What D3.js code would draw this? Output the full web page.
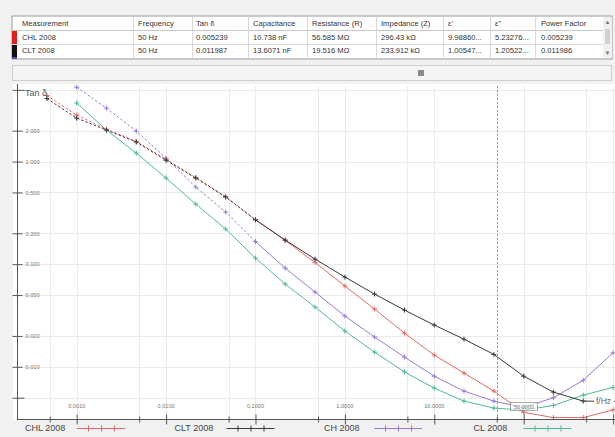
<!DOCTYPE html>
<html><head><meta charset="utf-8">
<script src="https://cdn.jsdelivr.net/npm/d3@7"></script>
<style>
html,body{margin:0;padding:0;background:#f1f1f1;}
svg{display:block;font-family:"Liberation Sans",Arial,sans-serif;}
</style></head><body>
<svg id="c" width="615" height="437"></svg>
<script>
// Measurement frequencies (Hz), three points per decade
const frequencies = [0.000464, 0.001, 0.00215, 0.00464, 0.01, 0.0215, 0.0464, 0.1, 0.215, 0.464,
                     1, 2.15, 4.64, 10, 21.5, 46.4, 100, 215, 464, 1000];
// Dissipation factor tan δ per winding combination
const chl2008 = [4.40, 2.84, 2.07, 1.57, 1.05, 0.70, 0.455, 0.272, 0.170, 0.104,
                 0.0612, 0.0365, 0.0213, 0.0130, 0.0087, 0.0058, 0.0036, 0.0032, 0.0032, 0.0038];
const clt2008 = [4.11, 2.65, 2.03, 1.55, 1.03, 0.69, 0.451, 0.270, 0.172, 0.112,
                 0.0749, 0.0511, 0.0357, 0.0255, 0.0186, 0.0132, 0.0081, 0.00567, 0.00463, 0.0046];
const ch2008  = [null, 5.30, 3.32, 1.98, 1.08, 0.564, 0.322, 0.166, 0.0916, 0.0535,
                 0.0312, 0.0195, 0.01244, 0.0081, 0.0058, 0.00463, 0.0040, 0.0050, 0.0074, 0.0137];
const cl2008  = [null, 3.72, 2.03, 1.21, 0.69, 0.385, 0.22, 0.1147, 0.064, 0.0382,
                 0.0223, 0.0139, 0.0089, 0.0062, 0.00463, 0.00396, 0.00378, 0.0042, 0.0053, 0.0063];
const seriesNames = ["CHL 2008", "CLT 2008", "CH 2008", "CL 2008"];

// Axis ticks
const yTickValues = [5, 2, 1, 0.5, 0.2, 0.1, 0.05, 0.02, 0.01, 0.005];
const yTickLabels = ["", "2.000", "1.000", "0.500", "0.200", "0.100", "0.050", "0.020", "0.010", ""];
const xMajorTicks = [0.001, 0.01, 0.1, 1, 10, 100, 1000];
const xMajorLabels = ["0.0010", "0.0100", "0.1000", "1.0000", "10.0000", "", ""];
const xMinorTicks = [0.0005, 0.005, 0.05, 0.5, 5, 50, 500];
const cursorFrequency = 50;

// Results table
const tableHeaders = ["Measurement", "Frequency", "Tan δ", "Capacitance", "Resistance (R)", "Impedance (Z)", "ε'", "ε''", "Power Factor"];
const tableRow1 = ["CHL 2008", "50 Hz", "0.005239", "10.738 nF", "56.585 MΩ", "296.43 kΩ", "9.98860...", "5.23276...", "0.005239"];
const tableRow2 = ["CLT 2008", "50 Hz", "0.011987", "13.6071 nF", "19.516 MΩ", "233.912 kΩ", "1.00547...", "1.20522...", "0.011986"];

// ---- styling ----
const colors = ["#e06a62", "#3a3a3a", "#9b78d8", "#4fb89c"];
const dashedUpTo = [0.1, 0.1, 0.1, 0];   // low-frequency part drawn dashed
const rowStripColors = ["#e0201c", "#111111"];

const svg = d3.select("#c");

// ---------- table ----------
const colX = [12, 133, 192, 248, 307, 376, 443, 490, 535, 603];
const tbl = svg.append("g");
tbl.append("rect").attr("x", 12).attr("y", 16).attr("width", 600).attr("height", 43)
   .attr("fill", "#fff").attr("stroke", "#9a9a9a");
tbl.append("line").attr("x1", 12).attr("x2", 603).attr("y1", 30.5).attr("y2", 30.5).attr("stroke", "#c8c8c8");
tbl.append("line").attr("x1", 12).attr("x2", 603).attr("y1", 44.5).attr("y2", 44.5).attr("stroke", "#dcdcdc");
colX.slice(1).forEach(cx => {
  tbl.append("line").attr("x1", cx + 0.5).attr("x2", cx + 0.5).attr("y1", 17).attr("y2", 58).attr("stroke", "#d8d8d8");
});
// row colour strip
tbl.append("rect").attr("x", 12).attr("y", 31).attr("width", 5).attr("height", 13).attr("fill", rowStripColors[0]);
tbl.append("rect").attr("x", 12).attr("y", 45).attr("width", 5).attr("height", 12).attr("fill", rowStripColors[1]);
tbl.append("rect").attr("x", 12).attr("y", 57).attr("width", 5).attr("height", 2).attr("fill", "#6a48b0");
// vertical scroll bar
tbl.append("rect").attr("x", 603).attr("y", 17).attr("width", 9).attr("height", 41).attr("fill", "#f0f0f0");
tbl.append("rect").attr("x", 605).attr("y", 29).attr("width", 5).attr("height", 15).attr("fill", "#d0d0d0");
tbl.append("text").attr("x", 607.5).attr("y", 24).attr("text-anchor", "middle").attr("font-size", 6).attr("fill", "#777").text("▲");
tbl.append("text").attr("x", 607.5).attr("y", 55).attr("text-anchor", "middle").attr("font-size", 6).attr("fill", "#777").text("▼");
const textX = [22, 138, 196, 253, 312, 381, 448, 495, 541];
[tableHeaders, tableRow1, tableRow2].forEach((row, r) => {
  row.forEach((t, i) => {
    tbl.append("text").attr("x", textX[i]).attr("y", 26 + r * 13.5)
      .attr("font-size", 7.6).attr("fill", "#333").text(t);
  });
});
// overview bar below table
svg.append("rect").attr("x", 12.5).attr("y", 65.5).attr("width", 599).attr("height", 15)
   .attr("fill", "#f4f4f4").attr("stroke", "#cfcfcf");
svg.append("rect").attr("x", 418).attr("y", 70).attr("width", 6).attr("height", 6).attr("fill", "#8a8a8a");

// ---------- chart ----------
const plot = {left: 17, right: 615, top: 86, bottom: 419};
svg.append("rect").attr("x", 13).attr("y", 84).attr("width", 602).attr("height", 336).attr("fill", "#fff");

const x = d3.scaleLog().domain([0.000215, 1000]).range([17, 613.1]);
const y = d3.scaleLog().domain([0.0031, 5.4]).range([419, 86.4]);

// grid
const grid = svg.append("g");
yTickValues.forEach(v => {
  grid.append("line").attr("x1", plot.left).attr("x2", plot.right)
    .attr("y1", Math.round(y(v)) + 0.5).attr("y2", Math.round(y(v)) + 0.5).attr("stroke", "#ebebeb");
});
xMajorTicks.concat(xMinorTicks).forEach(f => {
  const px = Math.round(x(f)) + 0.5;
  if (px > plot.right) return;
  grid.append("line").attr("x1", px).attr("x2", px).attr("y1", plot.top).attr("y2", plot.bottom).attr("stroke", "#ebebeb");
});
// cursor at 50 Hz
const cx50 = Math.round(x(cursorFrequency)) + 0.5;
grid.append("line").attr("x1", cx50).attr("x2", cx50).attr("y1", plot.top).attr("y2", plot.bottom)
  .attr("stroke", "#9a9a9a").attr("stroke-dasharray", "2,2");

// series
const clipId = "plotclip";
svg.append("clipPath").attr("id", clipId).append("rect")
  .attr("x", plot.left).attr("y", plot.top - 3).attr("width", plot.right - plot.left).attr("height", plot.bottom - plot.top + 3);
const seriesValues = [chl2008, clt2008, ch2008, cl2008];
const gSeries = svg.append("g").attr("clip-path", `url(#${clipId})`);
const line = d3.line().x(d => x(d.f)).y(d => y(d.v));

function crosses(g, pts, color) {
  g.selectAll(null).data(pts).enter().append("path")
    .attr("d", d => { const px = x(d.f), py = y(d.v);
      return `M${px - 2.5},${py}H${px + 2.5}M${px},${py - 2.5}V${py + 2.5}`; })
    .attr("stroke", color).attr("stroke-width", 1).attr("fill", "none");
}

// draw CL first so darker lines sit on top
[3, 2, 0, 1].forEach(s => {
  const pts = frequencies.map((f, i) => ({f, v: seriesValues[s][i]})).filter(d => d.v != null);
  const lim = dashedUpTo[s];
  const low = pts.filter(d => d.f <= lim * 1.0001);
  const high = pts.filter(d => d.f >= lim * 0.9999);
  if (low.length > 1) {
    gSeries.append("path").attr("d", line(low)).attr("fill", "none")
      .attr("stroke", colors[s]).attr("stroke-width", 1).attr("stroke-dasharray", "2.5,2");
  }
  gSeries.append("path").attr("d", line(high.length > 1 ? high : pts)).attr("fill", "none")
    .attr("stroke", colors[s]).attr("stroke-width", 1);
  crosses(gSeries, pts, colors[s]);
});

// y axis
const yAxis = svg.append("g").attr("transform", `translate(${plot.left + 0.5},0)`)
  .call(d3.axisRight(y).tickValues(yTickValues).tickFormat((d, i) => yTickLabels[i]).tickSize(4).tickPadding(4));
yAxis.select(".domain").attr("d", `M0,${plot.top - 2}V${plot.bottom}`).attr("stroke", "#555");
yAxis.selectAll(".tick line").attr("x1", -5).attr("x2", 5).attr("stroke", "#555");
yAxis.selectAll(".tick").filter(d => d === 5 || d === 0.005).select("line").attr("x1", -5).attr("x2", 7);
yAxis.selectAll(".tick text").attr("font-size", 5.6).attr("fill", "#777").attr("font-family", "Liberation Sans, Arial, sans-serif");

// x axis
const xAxis = svg.append("g").attr("transform", `translate(0,${plot.bottom + 0.5})`)
  .call(d3.axisBottom(x).tickValues(xMajorTicks.concat(xMinorTicks).filter(f => x(f) < 615)).tickFormat("").tickSize(0));
xAxis.select(".domain").attr("d", `M${plot.left},0H615`).attr("stroke", "#555");
xAxis.selectAll(".tick line").attr("y1", d => xMajorTicks.includes(d) ? -5 : -3)
  .attr("y2", d => xMajorTicks.includes(d) ? 5 : 3).attr("stroke", "#555");
xMajorTicks.forEach((f, i) => {
  if (!xMajorLabels[i]) return;
  svg.append("text").attr("x", x(f)).attr("y", 408).attr("text-anchor", "middle")
    .attr("font-size", 5.6).attr("fill", "#777").text(xMajorLabels[i]);
});

// axis titles
svg.append("text").attr("x", 25).attr("y", 96).attr("font-size", 9).attr("fill", "#555").text("Tan δ");
svg.append("rect").attr("x", 594).attr("y", 396).attr("width", 20).attr("height", 10).attr("fill", "#fff");
svg.append("text").attr("x", 596).attr("y", 404).attr("font-size", 8.5).attr("fill", "#666").text("f/Hz");

// cursor readout box
svg.append("rect").attr("x", 510.5).attr("y", 402.5).attr("width", 27).attr("height", 8)
  .attr("fill", "#fff").attr("fill-opacity", 0.7).attr("stroke", "#777").attr("stroke-width", 0.6);
svg.append("text").attr("x", 524).attr("y", 409).attr("text-anchor", "middle").attr("font-size", 5.5)
  .attr("fill", "#777").text("50.0000");

// legend
const legend = svg.append("g");
seriesNames.forEach((name, i) => {
  const lx = 25 + i * 149.5;
  legend.append("text").attr("x", lx).attr("y", 431).attr("font-size", 9).attr("fill", "#444").text(name);
  const sx = lx + (i < 2 ? 52 : 50);
  legend.append("line").attr("x1", sx).attr("x2", sx + 48).attr("y1", 428.5).attr("y2", 428.5)
    .attr("stroke", colors[i]).attr("stroke-width", 1);
  [11, 24, 37].forEach(o => {
    legend.append("line").attr("x1", sx + o + 0.5).attr("x2", sx + o + 0.5).attr("y1", 425.5).attr("y2", 431.5)
      .attr("stroke", colors[i]).attr("stroke-width", 1);
  });
});
</script>
</body></html>
